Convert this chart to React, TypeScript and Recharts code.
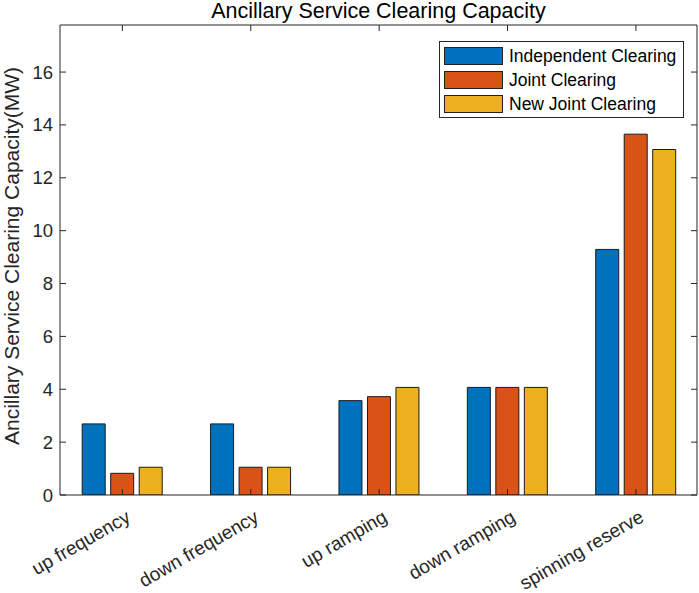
import React from 'react';
import { BarChart, Bar, XAxis, YAxis, Legend, Label } from 'recharts';

const categories = ['up frequency', 'down frequency', 'up ramping', 'down ramping', 'spinning reserve'];
const independentClearing = [2.69, 2.69, 3.57, 4.07, 9.29];
const jointClearing = [0.82, 1.05, 3.72, 4.07, 13.65];
const newJointClearing = [1.05, 1.05, 4.07, 4.07, 13.07];
const yTicks = [0, 2, 4, 6, 8, 10, 12, 14, 16];
const xPositions = [1, 2, 3, 4, 5];

const seriesNames = ['Independent Clearing', 'Joint Clearing', 'New Joint Clearing'];
const seriesColors = ['#0072BD', '#D95319', '#EDB120'];

const data = categories.map((c, i) => ({
  pos: xPositions[i],
  name: c,
  independent: independentClearing[i],
  joint: jointClearing[i],
  newJoint: newJointClearing[i],
}));

const W = 699;
const H = 593;
const PLOT_LEFT = 60;
const PLOT_RIGHT = 697;
const PLOT_TOP = 25;
const PLOT_BOTTOM = 495;
const FONT = 'Arial, "Liberation Sans", Helvetica, sans-serif';
const TEXT = '#262626';
const TICK_LEN = 6;

const YTick = (props: any) => {
  const { y, payload } = props;
  return (
    <g>
      <line x1={PLOT_LEFT} x2={PLOT_LEFT + TICK_LEN} y1={y} y2={y} stroke={TEXT} strokeWidth={1} />
      <line x1={PLOT_RIGHT - TICK_LEN} x2={PLOT_RIGHT} y1={y} y2={y} stroke={TEXT} strokeWidth={1} />
      <text x={PLOT_LEFT - 7} y={y} textAnchor="end" dominantBaseline="central" fontSize={18.5} fill={TEXT} fontFamily={FONT}>
        {payload.value}
      </text>
    </g>
  );
};

const XTick = (props: any) => {
  const { x, payload } = props;
  const idx = xPositions.indexOf(payload.value);
  const label = idx >= 0 ? categories[idx] : '';
  const tx = x + 6;
  const ty = PLOT_BOTTOM + 20;
  return (
    <g>
      <line x1={x} x2={x} y1={PLOT_BOTTOM} y2={PLOT_BOTTOM - TICK_LEN} stroke={TEXT} strokeWidth={1} />
      <line x1={x} x2={x} y1={PLOT_TOP} y2={PLOT_TOP + TICK_LEN} stroke={TEXT} strokeWidth={1} />
      <text
        x={tx}
        y={ty}
        textAnchor="end"
        dominantBaseline="central"
        transform={`rotate(-30 ${tx} ${ty})`}
        fontSize={19}
        fill={TEXT}
        fontFamily={FONT}
      >
        {label}
      </text>
    </g>
  );
};

const LegendContent = () => (
  <div
    style={{
      border: `1px solid ${TEXT}`,
      background: '#fff',
      padding: '2px 6px 1px 4px',
      boxSizing: 'border-box',
      fontFamily: FONT,
      fontSize: 17.5,
      color: '#000',
    }}
  >
    {seriesNames.map((n, i) => (
      <div key={n} style={{ display: 'flex', alignItems: 'center', height: 24 }}>
        <div
          style={{
            width: 59,
            height: 18,
            background: seriesColors[i],
            border: '1px solid #222',
            boxSizing: 'border-box',
            marginRight: 6,
          }}
        />
        <span style={{ whiteSpace: 'nowrap' }}>{n}</span>
      </div>
    ))}
  </div>
);

export default function App() {
  return (
    <div style={{ position: 'absolute', left: 0, top: 0, width: W, height: H, background: '#fff' }}>
      <div
        style={{
          position: 'absolute',
          left: PLOT_LEFT,
          width: PLOT_RIGHT - PLOT_LEFT,
          top: 1,
          lineHeight: '21px',
          textAlign: 'center',
          fontFamily: FONT,
          fontSize: 21.5,
          color: '#000',
          zIndex: 2,
        }}
      >
        Ancillary Service Clearing Capacity
      </div>
      <BarChart
        width={W}
        height={H}
        data={data}
        margin={{ top: 0, right: 0, bottom: 0, left: 0 }}
        barGap={5.5}
      >
        <XAxis
          dataKey="pos"
          type="number"
          domain={[0.514, 5.476]}
          ticks={xPositions}
          interval={0}
          height={H - PLOT_BOTTOM}
          tickLine={false}
          tick={<XTick />}
          axisLine={{ stroke: TEXT, strokeWidth: 1 }}
          allowDataOverflow
        />
        <XAxis
          xAxisId="top"
          orientation="top"
          dataKey="pos"
          type="number"
          domain={[0.514, 5.476]}
          height={PLOT_TOP}
          tick={false}
          tickLine={false}
          axisLine={{ stroke: TEXT, strokeWidth: 1 }}
          allowDataOverflow
        />
        <YAxis
          type="number"
          domain={[0, 17.78]}
          ticks={yTicks}
          interval={0}
          width={PLOT_LEFT}
          tickLine={false}
          tick={<YTick />}
          axisLine={{ stroke: TEXT, strokeWidth: 1 }}
          allowDataOverflow
        >
          <Label
            value="Ancillary Service Clearing Capacity(MW)"
            angle={-90}
            position="insideLeft"
            offset={12}
            dy={-4}
            style={{ textAnchor: 'middle', fontSize: 21, fill: TEXT, fontFamily: FONT }}
          />
        </YAxis>
        <YAxis
          yAxisId="right"
          orientation="right"
          type="number"
          domain={[0, 17.78]}
          width={W - PLOT_RIGHT}
          tick={false}
          tickLine={false}
          axisLine={{ stroke: TEXT, strokeWidth: 1 }}
        />
        <Legend
          layout="vertical"
          align="center"
          verticalAlign="middle"
          content={<LegendContent />}
          wrapperStyle={{ position: 'absolute', left: 439, top: 41, width: 245 }}
        />
        <Bar dataKey="independent" name={seriesNames[0]} fill={seriesColors[0]} stroke="#1a1a1a" strokeWidth={1} barSize={23} isAnimationActive={false} />
        <Bar dataKey="joint" name={seriesNames[1]} fill={seriesColors[1]} stroke="#1a1a1a" strokeWidth={1} barSize={23} isAnimationActive={false} />
        <Bar dataKey="newJoint" name={seriesNames[2]} fill={seriesColors[2]} stroke="#1a1a1a" strokeWidth={1} barSize={23} isAnimationActive={false} />
      </BarChart>
    </div>
  );
}
